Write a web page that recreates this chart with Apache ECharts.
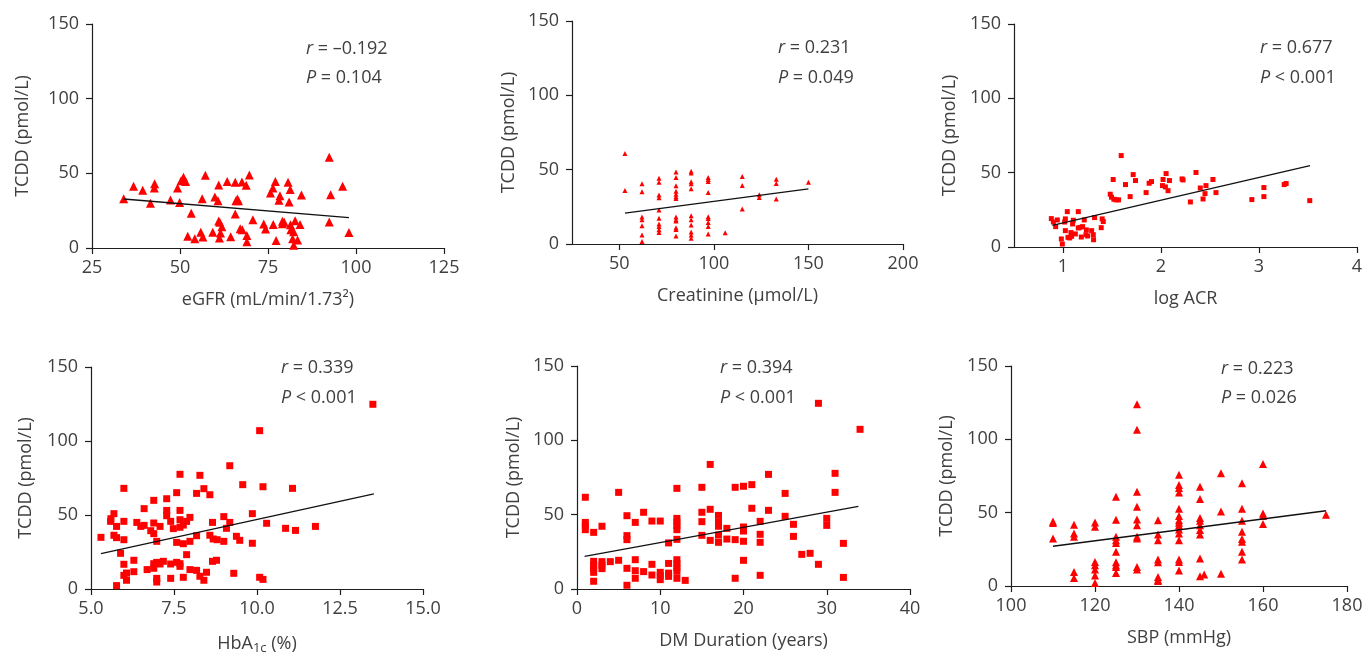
<!DOCTYPE html>
<html>
<head>
<meta charset="utf-8">
<script src="https://cdn.jsdelivr.net/npm/echarts@6/dist/echarts.min.js"></script>
<style>
html,body{margin:0;padding:0;background:#fff;}
#c{width:1365px;height:654px;}
</style>
</head>
<body>
<div id="c"></div>
<script>
// ---------- data ----------
var egfrX = [34,36.8,39.4,41.6,42.8,42.7,47.3,49.3,49.9,51.0,50.8,51.6,50.3,52.2,53.2,54.2,55.9,56.3,56.5,57.2,59.3,59.9,60.8,61.0,61.0,61.3,61.5,61.2,61.9,63.4,64.4,65.7,65.7,65.9,66.3,66.6,67.1,67.6,67.7,68.8,69.0,69.0,69.7,70.7,73.8,74.3,75.7,76.4,76.5,77.1,77.3,78.1,78.4,79.1,79.1,79.6,80.7,81.0,81.3,81.4,81.5,82.0,82.3,82.3,82.7,83.4,84.1,84.5,92.4,92.4,92.8,96.2,98.0];
var egfrY = [33.0,41.3,38.6,29.9,43.1,40.2,32.1,40.2,30.4,47.3,45.5,44.6,45.0,7.8,23.2,6.2,10.5,33.0,7.4,48.7,10.5,34.1,31.7,42.2,18.1,17.2,10.0,6.7,14.3,44.6,7.6,44.0,22.8,31.7,32.8,31.7,12.9,44.2,12.3,42.0,8.3,4.2,48.9,19.0,16.1,12.7,36.8,40.2,15.8,44.6,5.1,31.9,35.0,17.9,16.3,17.2,44.0,30.8,39.1,15.6,12.3,6.2,10.9,1.8,18.3,5.4,15.8,35.5,60.7,17.4,35.7,41.3,10.3];
var egfrFitX = [34, 98];
var egfrFitY = [32.8, 20.3];

var creatX = [53,53, 62,62,62,62,62,62,62, 71,71,71,71,71,71,71,71,71,71, 80,80,80,80,80,80,80,80,80,80,80,80,80, 88,88,88,88,88,88,88,88,88,88,88, 97,97,97,97,97,97,97,97,97, 106, 115,115,115, 124,124, 133,133,133, 150];
var creatY = [60.8,36.0, 40.5,35.1,18.1,16.3,12.3,6.0,1.6, 44.3,41.6,32.9,31.1,22.8,17.4,13.4,11.8,9.6,7.8, 48.5,44.7,39.1,35.5,33.5,31.7,30.6,18.1,16.3,15.4,11.0,9.8,5.4, 49.0,47.8,41.8,40.5,37.1,19.0,16.3,12.7,8.0,6.0,3.8, 44.7,43.4,42.0,34.7,18.3,17.2,14.5,11.8,6.7, 7.6, 45.4,39.3,23.5, 33.1,31.3, 43.6,40.7,30.2, 41.6];
var creatFitX = [53, 150];
var creatFitY = [20.8, 37.1];

var acrX = [1.594,1.512,1.716,1.638,1.740,1.482,1.495,1.519,1.543,1.567,1.685,1.848,1.879,1.903,2.015,2.021,2.052,2.045,2.086,2.072,2.215,2.225,2.357,2.300,2.401,2.429,2.459,2.449,2.530,2.561,2.927,3.050,3.050,3.257,3.277,3.518,
  0.881,0.902,0.925,0.942,0.983,0.993,1.017,1.024,1.024,1.044,1.051,1.068,1.081,1.088,1.098,1.105,1.126,1.156,1.156,1.173,1.187,1.200,1.217,1.238,1.234,1.251,1.292,1.309,1.312,1.322,1.390,1.400,1.411];
var acrY = [61.5,45.4,48.7,42.0,44.7,35.5,33.5,32.1,31.7,31.7,33.9,36.6,42.9,44.0,41.3,45.4,49.4,40.4,44.7,37.9,45.8,45.1,50.1,30.3,39.7,32.3,41.3,35.9,45.4,36.6,31.9,40.0,33.9,42.0,42.7,31.2,
  19.1,16.8,13.7,18.2,5.4,2.0,16.8,18.9,11.0,23.8,6.5,6.1,9.7,7.2,15.5,18.0,8.8,23.8,12.8,13.2,6.7,13.7,18.2,11.5,8.3,7.4,11.0,8.3,4.9,19.8,13.0,18.9,17.1];
var acrFitX = [0.891, 3.521];
var acrFitY = [14.6, 54.8];

var hbaX = [5.30,5.59,5.60,5.69,5.69,5.77,5.77,5.89,5.77,5.99,5.99,5.99,5.99,5.99,6.07,6.07,6.29,6.29,6.38,6.50,6.60,6.60,6.69,6.80,6.89,6.89,6.89,6.89,6.89,6.98,6.98,6.98,6.98,7.08,7.08,7.18,7.28,7.28,7.28,7.40,7.40,7.40,7.48,7.58,7.58,7.58,7.68,7.68,7.68,7.68,7.68,7.68,7.78,7.78,7.78,7.88,7.88,7.98,7.98,7.98,8.18,8.18,8.18,8.28,8.28,8.40,8.40,8.48,8.58,8.58,8.66,8.68,8.66,8.78,8.80,9.00,9.00,9.08,9.18,9.18,9.30,9.38,9.48,9.57,9.86,9.86,10.08,10.08,10.18,10.18,10.29,10.86,11.07,11.16,11.76,13.49];
var hbaY = [34.9,45.7,47.5,50.9,36.3,42.3,34.7,24.1,2.3,68.0,45.7,33.3,16.7,9.2,10.8,5.9,19.4,11.7,45.0,42.3,43.0,54.3,13.1,39.4,59.9,44.6,37.4,17.1,14.0,32.2,18.0,7.2,4.7,42.3,16.9,18.7,61.0,53.1,49.5,45.7,16.9,7.2,40.8,65.1,31.5,18.0,77.5,53.1,46.8,41.7,17.1,15.3,43.2,30.6,7.9,45.7,23.2,48.4,32.2,13.1,64.6,36.0,12.6,76.8,8.6,67.8,5.9,11.3,63.7,36.3,45.0,33.8,18.7,19.4,33.3,48.9,32.2,41.0,83.3,45.0,10.6,35.6,32.9,70.5,50.9,30.9,107.0,7.9,69.1,6.5,44.4,41.0,68.0,39.6,42.3,124.8];
var hbaFitX = [5.30, 13.52];
var hbaFitY = [23.9, 64.2];

var dmX = [1,1,1,1, 2,2,2,2,2,2, 3,3,3,3, 4, 5,5, 6,6,6,6,6, 7,7,7,7, 8,8, 9,9,9, 10,10,10,10, 11,11,11,11, 12,12,12,12,12,12,12,12,12,12,12, 13, 15,15,15,15, 16,16,16, 17,17,17,17,17, 18,18, 19,19,19, 20,20,20,20,20, 21,21, 22,22,22,22, 23,23, 25,25, 26,26, 27, 28, 29,29, 30,30, 31,31, 32,32, 34];
var dmY = [61.7,44.8,42.6,39.9, 38.1,18.6,15.9,13.7,11.2,5.2, 42.2,18.4,15.9,13.7, 18.4, 65.0,19.3, 49.3,35.9,33.2,13.9,2.5, 44.8,19.7,12.3,7.2, 51.6,11.7, 45.7,16.6,9.4, 45.7,11.2,9.0,6.3, 31.0,17.2,10.7,8.5, 67.7,47.5,45.1,42.6,39.9,33.4,19.7,17.0,14.3,11.9,7.2, 5.8, 68.4,51.6,45.3,36.1, 83.8,53.6,32.7, 49.5,44.8,42.2,36.3,31.4, 40.8,33.6, 68.4,33.2,7.2, 69.1,41.7,39.0,32.1,19.3, 70.2,54.3, 45.5,36.8,31.4,9.2, 77.1,52.9, 64.3,48.9, 43.5,35.4, 23.3, 24.0, 124.9,16.6, 47.5,42.8, 77.8,65.0, 30.7,7.8, 107.4];
var dmFitX = [0.92, 33.8];
var dmFitY = [22.0, 55.6];

var sbpX = [110,110,110, 115,115,115,115,115, 120,120,120,120,120,120,120, 125,125,125,125,125,125,125,125,125,125, 130,130,130,130,130,130,130,130,130,130, 135,135,135,135,135,135,135,135, 140,140,140,140,140,140,140,140,140,140,140,140,140,140,140, 145,145,145,145,145,145,145,145,145, 146, 150,150,150, 155,155,155,155,155,155,155,155, 160,160,160,160, 175];
var sbpY = [44.0,43.0,32.4, 41.7,35.8,33.5,9.6,5.5, 43.3,40.4,16.4,14.1,11.2,7.1,2.1, 60.9,45.1,33.5,31.2,29.4,23.3,16.2,14.1,13.0,8.9, 124.0,106.5,64.3,54.0,45.4,41.5,33.5,32.4,13.0,11.2, 44.9,35.1,31.2,18.0,16.2,6.2,4.3,3.4, 75.9,68.9,66.8,63.8,52.7,47.7,44.9,43.1,41.3,38.5,35.8,31.2,18.0,16.4,10.5, 67.7,59.3,46.3,44.5,41.5,38.1,35.1,18.7,6.6, 7.8, 76.8,50.8,8.4, 70.0,52.7,44.5,37.0,32.0,30.1,23.3,18.0, 83.2,49.5,47.7,42.2, 48.6];
var sbpFitX = [110, 175];
var sbpFitY = [27.1, 51.3];

var xNames = ['eGFR (mL/min/1.73\u00B2)', 'Creatinine (\u00B5mol/L)', 'log ACR', 'HbA{s|1c} (%)', 'DM Duration (years)', 'SBP (mmHg)'];
var yName = 'TCDD (pmol/L)';
var rTexts = ['\u20130.192', '0.231', '0.677', '0.339', '0.394', '0.223'];
var pTexts = ['= 0.104', '= 0.049', '< 0.001', '< 0.001', '< 0.001', '= 0.026'];

// ---------- layout / style ----------
var FONT = '"Open Sans", "Noto Sans", sans-serif';
var TXT = '#404040';
var RED = '#ff0000';
var grids = [
  {left: 92,  top: 24,  width: 352, height: 224},
  {left: 572, top: 21,  width: 331, height: 223},
  {left: 1014,top: 24,  width: 343, height: 223},
  {left: 91,  top: 367, width: 332, height: 222},
  {left: 577, top: 366, width: 333, height: 223},
  {left: 1011,top: 366, width: 336, height: 220}
];
var xCfg = [
  {min: 25, max: 125, interval: 25},
  {min: 25, max: 200, custom: [50, 100, 150, 200]},
  {min: 0.5, max: 4, custom: [1, 2, 3, 4]},
  {min: 5, max: 15, interval: 2.5, fmt: function (v) { return v.toFixed(1); }},
  {min: 0, max: 40, interval: 10},
  {min: 100, max: 180, interval: 20}
];
var yGap = [60, 54, 55, 56, 54, 55];
var sets = [
  {x: egfrX, y: egfrY, fx: egfrFitX, fy: egfrFitY, sym: 'triangle', size: 9},
  {x: creatX, y: creatY, fx: creatFitX, fy: creatFitY, sym: 'triangle', size: 5},
  {x: acrX, y: acrY, fx: acrFitX, fy: acrFitY, sym: 'rect', size: 5},
  {x: hbaX, y: hbaY, fx: hbaFitX, fy: hbaFitY, sym: 'rect', size: 7},
  {x: dmX, y: dmY, fx: dmFitX, fy: dmFitY, sym: 'rect', size: 7},
  {x: sbpX, y: sbpY, fx: sbpFitX, fy: sbpFitY, sym: 'triangle', size: 8}
];
var annPos = [
  {x: 306, r: 52, p: 81},
  {x: 778, r: 51, p: 81},
  {x: 1260, r: 51, p: 81},
  {x: 281, r: 371, p: 401},
  {x: 720, r: 371, p: 401},
  {x: 1221, r: 372, p: 401}
];

function zip(a, b) { return a.map(function (v, i) { return [v, b[i]]; }); }

var axisLine = {show: true, onZero: false, lineStyle: {color: '#1e1e1e', width: 1.2}};
var axisTick = {show: true, inside: false, length: 6, lineStyle: {color: '#1e1e1e', width: 1.2}};

var option = {
  animation: false,
  backgroundColor: '#ffffff',
  grid: grids.map(function (g) { return Object.assign({containLabel: false, outerBoundsMode: 'none'}, g); }),
  xAxis: xCfg.map(function (c, i) {
    var ax = {
      type: 'value', gridIndex: i, min: c.min, max: c.max,
      name: xNames[i], nameLocation: 'middle', nameGap: 43,
      nameTextStyle: {fontFamily: FONT, fontSize: 18, color: TXT,
        rich: {s: {fontFamily: FONT, fontSize: 13, color: TXT, padding: [10, 0, 0, 0]}}},
      axisLine: axisLine,
      axisTick: Object.assign({}, axisTick),
      axisLabel: {fontFamily: FONT, fontSize: 18, color: TXT, margin: 11, showMinLabel: true, showMaxLabel: true, hideOverlap: false},
      splitLine: {show: false}
    };
    if (c.interval) ax.interval = c.interval;
    if (c.custom) {
      ax.axisTick.customValues = c.custom;
      ax.axisLabel.customValues = c.custom;
    }
    if (c.fmt) ax.axisLabel.formatter = c.fmt;
    return ax;
  }),
  yAxis: grids.map(function (g, i) {
    return {
      type: 'value', gridIndex: i, min: 0, max: 150, interval: 50,
      name: yName, nameLocation: 'middle', nameGap: yGap[i], nameRotate: 90,
      nameTextStyle: {fontFamily: FONT, fontSize: 18, color: TXT},
      axisLine: axisLine, axisTick: axisTick,
      axisLabel: {fontFamily: FONT, fontSize: 18, color: TXT, margin: 13, showMinLabel: true, showMaxLabel: true},
      splitLine: {show: false}
    };
  }),
  series: [],
  graphic: []
};

sets.forEach(function (s, i) {
  option.series.push({
    type: 'scatter', xAxisIndex: i, yAxisIndex: i,
    data: zip(s.x, s.y), symbol: s.sym, symbolSize: s.size,
    itemStyle: {color: RED, opacity: 1}, silent: true, z: 2
  });
  option.series.push({
    type: 'line', xAxisIndex: i, yAxisIndex: i,
    data: zip(s.fx, s.fy), symbol: 'none', silent: true, z: 3,
    lineStyle: {color: '#111', width: 1.3}
  });
});

annPos.forEach(function (p, i) {
  option.graphic.push({
    type: 'text', left: p.x, top: p.r - 12,
    style: {text: '{i|r} = ' + rTexts[i], fontFamily: FONT, fontSize: 18, fill: TXT,
      rich: {i: {fontFamily: FONT, fontSize: 18, fontStyle: 'italic', fill: TXT}}}
  });
  option.graphic.push({
    type: 'text', left: p.x, top: p.p - 12,
    style: {text: '{i|P} ' + pTexts[i], fontFamily: FONT, fontSize: 18, fill: TXT,
      rich: {i: {fontFamily: FONT, fontSize: 18, fontStyle: 'italic', fill: TXT}}}
  });
});

var chart = echarts.init(document.getElementById('c'), null, {renderer: 'canvas'});
chart.setOption(option);
</script>
</body>
</html>
